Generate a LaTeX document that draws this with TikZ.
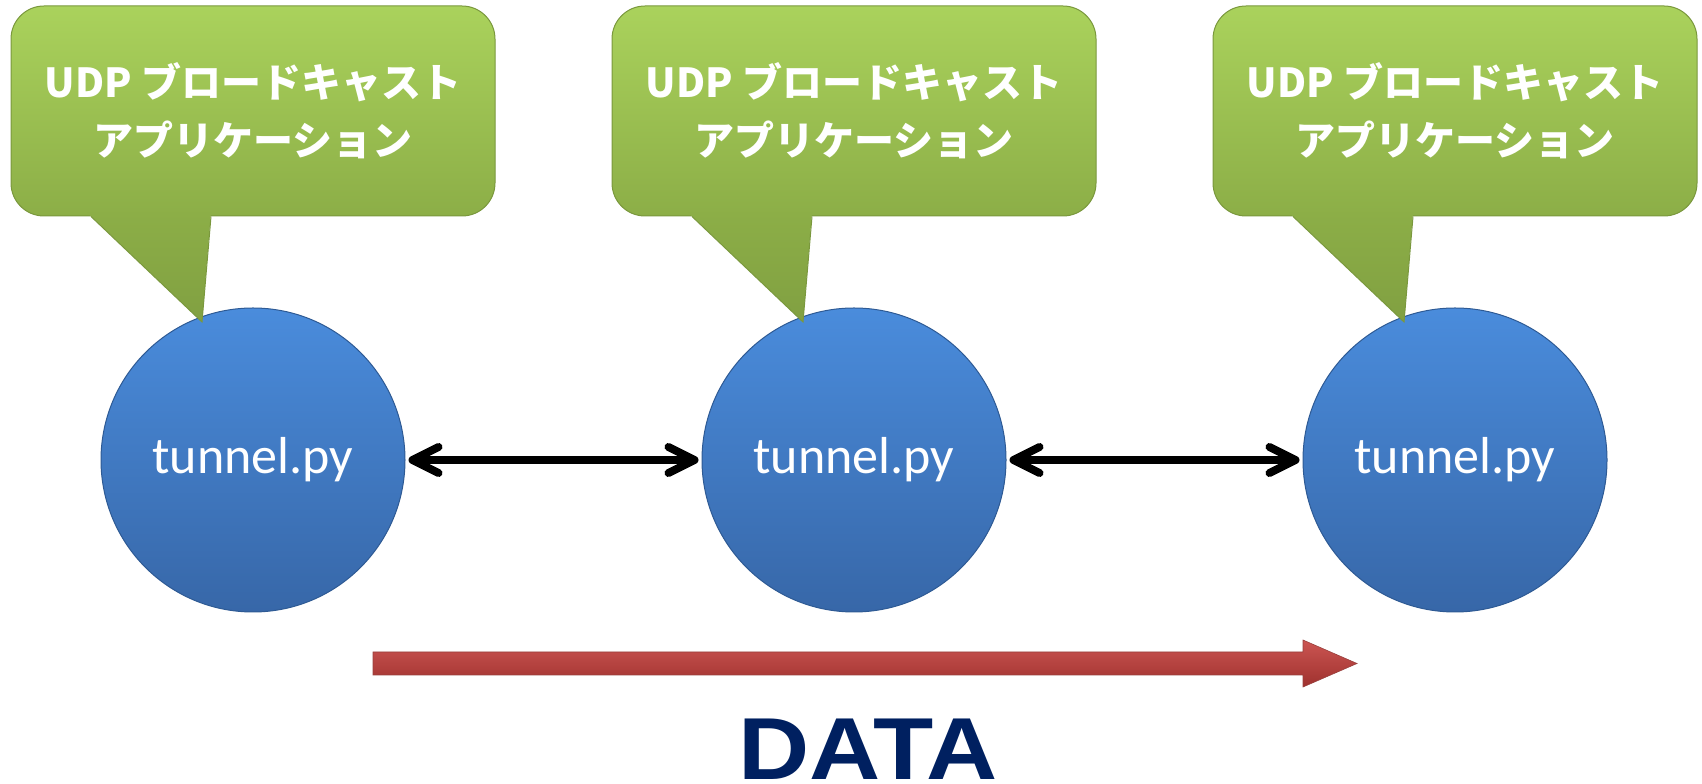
\documentclass[tikz,border=0pt]{standalone}
\usepackage{fontspec}
\usetikzlibrary{arrows.meta, positioning, calc}
\newfontfamily\jpfont{Noto Sans CJK JP Black}
\newfontfamily\tunnelfont{Carlito}
\newfontfamily\datafont{Liberation Sans Bold}[FakeStretch=1.12]
\definecolor{cAppTop}{HTML}{AAD25C}
\definecolor{cAppBot}{HTML}{8CAE47}
\definecolor{cAppEdge}{HTML}{7A983D}
\definecolor{cTunTop}{HTML}{4A8CDC}
\definecolor{cTunBot}{HTML}{3767A8}
\definecolor{cTunEdge}{HTML}{2E5A94}
\definecolor{cDataTop}{HTML}{CC5552}
\definecolor{cDataMid}{HTML}{F08382}
\definecolor{cDataBot}{HTML}{9E312E}
\definecolor{cDataEdge}{HTML}{98403D}
\definecolor{cDataText}{HTML}{002060}
\tikzset{
  appbox/.style={rectangle, rounded corners=33pt, minimum width=484pt, minimum height=210pt,
    inner sep=0pt, top color=cAppTop, bottom color=cAppBot, draw=cAppEdge, line width=1pt,
    text=white, align=center, font=\jpfont\fontsize{40}{58}\selectfont},
  tailfill/.style={top color=cAppBot, bottom color=cAppBot!92!black, draw=none},
  tailedge/.style={draw=cAppEdge, line width=1pt, line join=miter},
  tunnelnode/.style={circle, minimum size=304pt, inner sep=0pt,
    top color=cTunTop, bottom color=cTunBot, draw=cTunEdge, line width=1pt,
    text=white, font=\tunnelfont\fontsize{52}{60}\selectfont},
  link/.style={line width=8pt, draw=black},
  barb/.style={line width=8pt, draw=black, line cap=round, line join=round},
  dataarrow/.style={top color=cDataTop, middle color=cDataMid, bottom color=cDataBot,
    draw=cDataEdge, line width=0.6pt},
  datalabel/.style={text=cDataText, font=\datafont\fontsize{88}{96}\selectfont, inner sep=0pt},
}

\begin{document}
\begin{tikzpicture}[x=1pt, y=1pt]
  \useasboundingbox (0,0) rectangle (1702,784);

  % ----------------------------------------------------------------
  % tunnel.py nodes in a row
  % ----------------------------------------------------------------
  \node[tunnelnode] (tunnel1) at (253,324) {\raisebox{-4pt}{tunnel.py}};
  \node[tunnelnode, right=296pt of tunnel1] (tunnel2) {\raisebox{-4pt}{tunnel.py}};
  \node[tunnelnode, right=296pt of tunnel2] (tunnel3) {\raisebox{-4pt}{tunnel.py}};

  % two-way links, chevron heads touching the circles
  \foreach \a/\b in {1/2, 2/3} {
    \draw[link] ($(tunnel\a.east)+(8,0)$) -- ($(tunnel\b.west)+(-8,0)$);
    \draw[barb] ($(tunnel\a.east)+(33,13)$) -- ($(tunnel\a.east)+(7,0)$) -- ($(tunnel\a.east)+(33,-13)$);
    \draw[barb] ($(tunnel\b.west)+(-33,13)$) -- ($(tunnel\b.west)+(-7,0)$) -- ($(tunnel\b.west)+(-33,-13)$);
  }

  % ----------------------------------------------------------------
  % speech bubbles: broadcast app sitting on each tunnel
  % ----------------------------------------------------------------
  \foreach \i in {1,2,3} {
    \node[appbox, above=91pt of tunnel\i] (app\i)
      {UDP ブロードキャスト\\アプリケーション};
    \coordinate (tip\i) at ($(tunnel\i.center)+(-51,138)$);
    % tail covers the bottom edge of the box, then gets its own outline
    \path[tailfill] ($(app\i.south)+(-166,4)$) -- (tip\i) -- ($(app\i.south)+(-42,4)$) -- cycle;
    \draw[tailedge] ($(app\i.south)+(-162,0)$) -- (tip\i) -- ($(app\i.south)+(-42,0)$);
  }

  % ----------------------------------------------------------------
  % data direction
  % ----------------------------------------------------------------
  \coordinate (dataL) at (373,120.5);
  \coordinate (dataR) at (1357,120.5);
  \path[dataarrow] ($(dataL)+(0,11.5)$) -- ($(dataR)+(-54,11.5)$) -- ($(dataR)+(-54,23.5)$)
    -- (dataR) -- ($(dataR)+(-54,-23.5)$) -- ($(dataR)+(-54,-11.5)$) -- ($(dataL)+(0,-11.5)$) -- cycle;

  \node[datalabel, anchor=base] (datatext) at (868,4) {DATA};

\end{tikzpicture}
\end{document}
